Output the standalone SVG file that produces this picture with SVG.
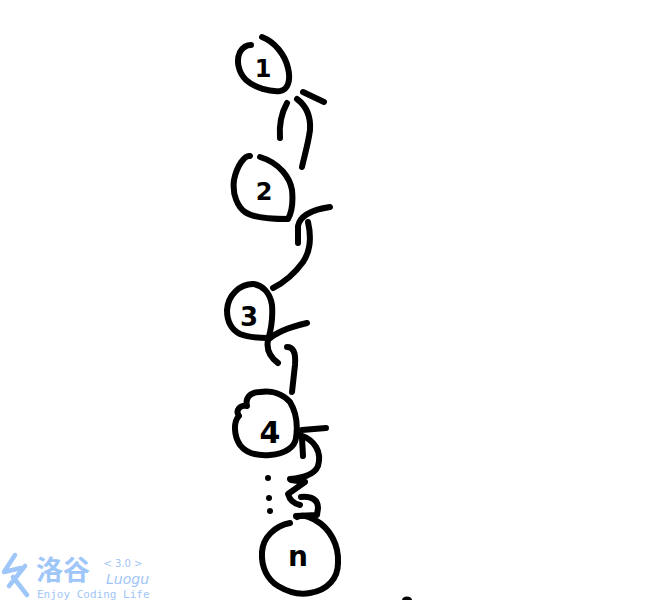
<svg xmlns="http://www.w3.org/2000/svg" width="665" height="600" viewBox="0 0 665 600">
<style>
.s{fill:none;stroke:#000;stroke-width:6;stroke-linecap:round;stroke-linejoin:round}
.d{font-family:"DejaVu Sans",sans-serif;font-weight:bold;fill:#000;text-anchor:middle}
.w{fill:#9fc6f8}
.wl{fill:none;stroke:#9fc6f8;stroke-width:4.5;stroke-linecap:round;stroke-linejoin:round}
</style>
<rect width="665" height="600" fill="#fff"/>
<g id="node1">
<path class="s" d="M262,37 C275,42 285,55 288,68 C291,80 288,90 280,91 C270,92 255,88 246,80 C238,72 236,60 240,52 C243,47 247,45 251,45"/>
<text class="d" x="263" y="77" font-size="24">1</text>
</g>
<g id="node2">
<path class="s" d="M260,157 C280,163 290,178 292,190 C293,200 292,212 288,219 C265,219 252,217 245,212 C238,207 232,195 234,180 C237,165 245,155 250,156"/>
<text class="d" x="264" y="200" font-size="24">2</text>
</g>
<g id="node3">
<path class="s" d="M253,284 C240,284 228,295 227,310 C227,322 232,330 240,334 C250,338 260,338 268,338"/>
<path class="s" d="M253,284 C262,285 270,292 272,305 C273,318 271,330 268,340 C266,350 270,357 278,363"/>
<text class="d" x="249" y="326" font-size="26">3</text>
</g>
<g id="node4">
<path class="s" d="M260,392 C250,392 245,398 247,406 C240,405 235,410 239,416 C233,422 234,436 240,445 C246,453 257,456 270,455 C285,454 295,447 296,438 C298,425 296,412 290,402 C283,394 272,390 260,392"/>
<text class="d" x="270" y="443" font-size="30">4</text>
</g>
<g id="noden">
<path class="s" d="M290,523 C275,526 263,537 262,552 C261,568 268,580 278,586 C288,592 300,595 310,593 C328,590 338,578 338,563 C339,545 330,528 315,520 C308,516 301,515 297,517"/>
<text class="d" x="298" y="566" font-size="28">n</text>
</g>
<g id="connectors">
<path class="s" d="M287,103 C282,112 279,125 280,138"/>
<path class="s" d="M297,99 C305,105 311,115 310,130 C308,145 304,157 302,167"/>
<path class="s" d="M303,92 L324,102"/>
<path class="s" d="M298,243 L298,226 C300,216 310,210 330,207"/>
<path class="s" d="M308,222 C311,235 311,250 303,262 C295,273 285,282 273,288"/>
<path class="s" d="M268,340 C275,333 290,327 307,323"/>
<path class="s" d="M287,347 C293,347 296,352 295,365 L292,392"/>
<path class="s" d="M302,430 L326,428"/>
<path class="s" d="M300,435 C315,440 322,452 318,466 C314,476 300,478 290,479"/>
<path class="s" d="M302,438 L303,456"/>
<path class="s" d="M291,480 L305,482 L288,494 C290,501 295,504 300,505"/>
<path class="s" d="M301,497 C312,496 318,500 318,508 L317,515 L296,516"/>
<circle cx="268" cy="478" r="3"/>
<circle cx="269" cy="498" r="3"/>
<circle cx="270" cy="511" r="3"/>
</g>
<ellipse cx="407" cy="600" rx="5" ry="3.5"/>
<g id="watermark">
<path class="wl" d="M15,555 L4,572 L21,568 M25,566 L9,586 M13,577 L27,595"/>
<text class="w" x="36" y="580" font-family="'Noto Sans CJK SC',sans-serif" font-weight="bold" font-size="27">洛谷</text>
<text class="w" x="123" y="567" font-family="'DejaVu Sans',sans-serif" font-size="10" text-anchor="middle">&lt; 3.0 &gt;</text>
<text class="w" x="106" y="584" font-family="'DejaVu Sans',sans-serif" font-style="italic" font-size="14">Luogu</text>
<text class="w" x="37" y="598" font-family="'DejaVu Sans Mono',monospace" font-size="11">Enjoy Coding Life</text>
</g>
</svg>
